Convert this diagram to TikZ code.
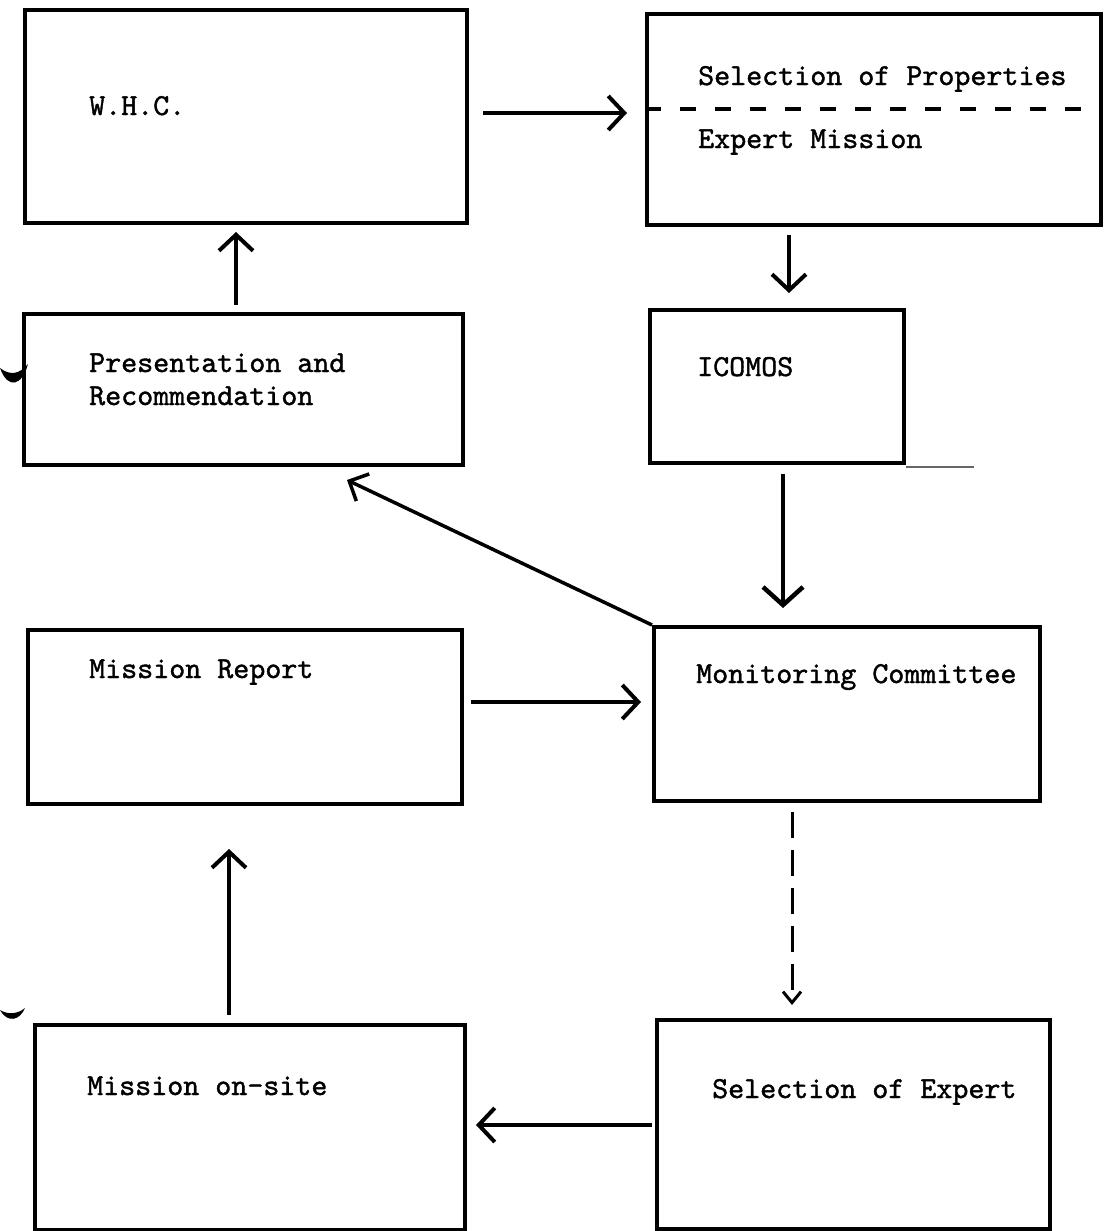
\documentclass[tikz,border=0pt]{standalone}
\usepackage{fontspec}
\newfontfamily\typew{lmmono10-regular}[Extension=.otf, FakeBold=1.3]
\usetikzlibrary{arrows.meta,calc}
\begin{document}
\begin{tikzpicture}[x=1pt,y=-1pt,
  box/.style={draw, line width=4pt, inner sep=0pt, anchor=north west, line join=miter},
  lbl/.style={anchor=base west, inner sep=0pt, font=\fontsize{30.5}{33}\selectfont\typew},
  arr/.style={line width=4pt, -{Straight Barb[length=16pt, width=34pt, line width=4pt]}},
  bigarr/.style={line width=4.5pt, -{Straight Barb[length=18pt, width=40pt, line width=4.5pt]}},
  dasharr/.style={line width=3pt, dash pattern=on 26pt off 12pt, -{Straight Barb[length=11pt, width=18pt, line width=3pt, sep=0pt]}},
  sepline/.style={line width=4pt, dash pattern=on 16pt off 19pt},
  stray/.style={line width=1.5pt, black!60}
]
\useasboundingbox (0,0) rectangle (1103,1231);

% boxes
\node[box, minimum width=442pt, minimum height=213pt] (whc) at (23,8) {};
\node[box, minimum width=454pt, minimum height=211pt] (sel) at (645,12) {};
\node[box, minimum width=439pt, minimum height=151pt] (pres) at (22,312) {};
\node[box, minimum width=254pt, minimum height=153pt] (icomos) at (648,308) {};
\node[box, minimum width=434pt, minimum height=174pt] (rep) at (26,628) {};
\node[box, minimum width=386pt, minimum height=174pt] (mon) at (652,625) {};
\node[box, minimum width=430pt, minimum height=205pt] (site) at (33,1023) {};
\node[box, minimum width=393pt, minimum height=209pt] (expert) at (655,1018) {};

% texts
\node[lbl] (t1) at (89,115) {W.H.C.};
\node[lbl] (t2a) at (698,85) {Selection of Properties};
\node[lbl] (t2b) at (698,148) {Expert Mission};
\node[lbl] (t3a) at (89,372) {Presentation and};
\node[lbl] (t3b) at (89,405) {Recommendation};
\node[lbl] (t4) at (697,376) {ICOMOS};
\node[lbl] (t5) at (89,678) {Mission Report};
\node[lbl] (t6) at (696,683) {Monitoring Committee};
\node[lbl] (t7) at (87,1095) {Mission on-site};
\node[lbl] (t8) at (712,1098) {Selection of Expert};

% dashed separator in the first right box
\draw[sepline] ([yshift=10.5pt]sel.west) -- ([yshift=10.5pt,xshift=-14pt]sel.east);
% stray line beside ICOMOS
\draw[stray] ([yshift=-2pt]icomos.south east) -- ++(68,0);

% helper coordinates for connector columns and rows
\coordinate (ca) at (789,0);
\coordinate (cb) at (783,0);
\coordinate (cc) at (236,0);
\coordinate (cd) at (792,0);
\coordinate (ce) at (229,0);
\coordinate (ra) at (0,113);
\coordinate (rb) at (0,702);
\coordinate (rc) at (0,1125);
\coordinate (tipP) at (347,480);

% connectors
\draw[arr, shorten <=14pt, shorten >=18pt] (whc.east |- ra) -- (sel.west |- ra);
\draw[arr, shorten <=8pt, shorten >=15pt] (sel.south -| ca) -- (icomos.north -| ca);
\draw[bigarr, shorten <=9pt, shorten >=17pt] (icomos.south -| cb) -- (mon.north -| cb);
\draw[line width=3.5pt, -{Straight Barb[length=15pt, width=30pt, line width=3.5pt]}] (mon.north west) -- (tipP);
\draw[arr, line width=3.5pt, shorten <=7pt, shorten >=7pt] (pres.north -| cc) -- (whc.south -| cc);
\draw[arr, line width=3.5pt, shorten <=7pt, shorten >=11pt] (rep.east |- rb) -- (mon.west |- rb);
\draw[dasharr, shorten <=9pt, shorten >=13pt] (mon.south -| cd) -- (expert.north -| cd);
\draw[arr, shorten <=3pt, shorten >=9pt] (expert.west |- rc) -- (site.east |- rc);
\draw[arr, shorten <=8pt, shorten >=43pt] (site.north -| ce) -- (rep.south -| ce);

% punch-hole blots at the left margin
\fill (0,368) .. controls (8,390) and (22,386) .. (28,364) .. controls (20,374) and (10,376) .. (0,368) -- cycle;
\fill (0,1010) .. controls (8,1024) and (20,1020) .. (25,1008) .. controls (18,1014) and (8,1015) .. (0,1010) -- cycle;
\end{tikzpicture}
\end{document}
